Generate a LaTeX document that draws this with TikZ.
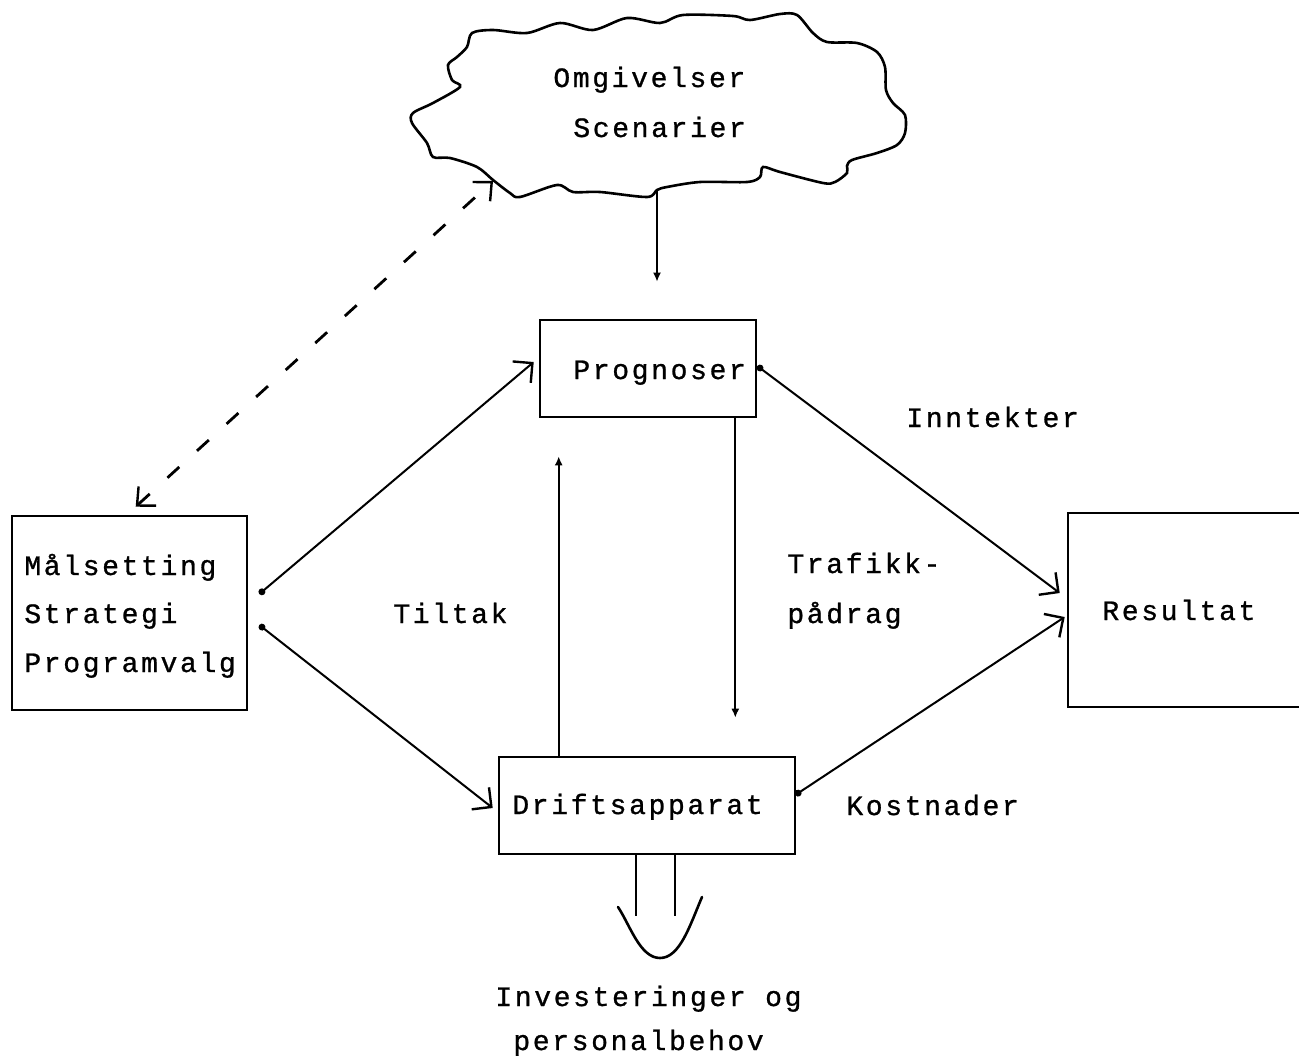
\documentclass[tikz,border=0pt]{standalone}
\usepackage{fontspec}
\newfontfamily\typew[LetterSpace=9.5,FakeBold=0.9]{Liberation Mono}
\usetikzlibrary{arrows.meta,calc}

\tikzset{
  box/.style={draw, line width=1.3pt, rectangle, inner sep=0pt},
  lbl/.style={inner sep=0pt, anchor=base west, font=\typew\fontsize{14}{16}\selectfont},
  conn/.style={line width=1pt, {Circle[length=3.4pt]}-{Straight Barb[length=7pt,width=14pt,line width=1.2pt]}},
  thin/.style={line width=1pt, -{Latex[length=4.5pt,width=4pt]}},
  dashconn/.style={line width=1.4pt, dash pattern=on 8pt off 12pt,
    {Straight Barb[length=7pt,width=13pt,line width=1.2pt]}-{Straight Barb[length=7pt,width=13pt,line width=1.2pt]}},
}

\begin{document}
\begin{tikzpicture}[x=0.5pt,y=-0.5pt]
\clip (0,0) rectangle (1299,1060);
\fill[white] (0,0) rectangle (1299,1060);

% environment cloud
\draw[line width=1.3pt] plot[smooth cycle, tension=0.5] coordinates {
  (472,33) (493,30) (527,33) (560,23) (593,30) (627,18) (660,23) (683,15)
  (733,16) (750,20) (780,14) (797,15) (813,33) (827,42) (857,43) (877,52)
  (885,67) (886,90) (893,103) (905,115) (905,133) (897,145) (877,153)
  (852,160) (847,166) (847,173) (835,182) (823,183) (780,172) (763,167)
  (760,177) (747,182) (700,182) (667,187) (657,190) (647,197) (600,192)
  (573,192) (557,185) (520,197) (510,193) (493,180) (477,167) (450,158)
  (433,157) (427,143) (412,123) (413,113) (433,103) (460,87) (452,80)
  (448,65) (457,57) (467,47)};
\coordinate (cloudS) at (657,190);
\coordinate (cloudSW) at (493,181);
\node[lbl] (omg) at (553,87) {Omgivelser};
\node[lbl] (scen) at (573,137) {Scenarier};

% boxes
\node[box, minimum width=108pt, minimum height=48.5pt] (prog) at (648,368.5) {};
\node[box, minimum width=117.5pt, minimum height=97pt] (maal) at (129.5,613) {};
\node[box, minimum width=148pt, minimum height=48.5pt] (drift) at (647,805.5) {};
\node[box, minimum width=131pt, minimum height=97pt] (res) at (1199,610) {};

% box texts
\node[lbl] (progT) at (573,379) {Prognoser};
\node[lbl] (maalT1) at (24,575) {Målsetting};
\node[lbl] (maalT2) at (24,623) {Strategi};
\node[lbl] (maalT3) at (24,672) {Programvalg};
\node[lbl] (driftT) at (512,814) {Driftsapparat};
\node[lbl] (resT) at (1102,620) {Resultat};

% connector labels
\node[lbl] (inn) at (906,427) {Inntekter};
\node[lbl] (traf1) at (787,573) {Trafikk-};
\node[lbl] (traf2) at (787,623) {pådrag};
\node[lbl] (tilt) at (393,623) {Tiltak};
\node[lbl] (kost) at (846,815) {Kostnader};
\node[lbl] (inv1) at (495,1006) {Investeringer og};
\node[lbl] (inv2) at (513,1050) {personalbehov};

% connectors
\draw[conn] ($(maal.east)+(11,-19)$) -- ($(prog.west)+(-5,-6.5)$);
\draw[conn] ($(maal.east)+(11,12)$) -- ($(drift.west)+(-5,2.5)$);
\draw[conn] ($(prog.east)+(0,-2.5)$) -- ($(res.west)+(-7,-17)$);
\draw[conn] ($(drift.east)+(-1,-10.5)$) -- ($(res.west)+(-2,7)$);
\draw[thin] ($(drift.north west)+(61,0)$) -- ($(prog.south west)+(20,38)$);
\draw[thin] ($(prog.south east)+(-22,0)$) -- ($(drift.north east)+(-61,-38)$);
\draw[thin] (cloudS) -- ($(prog.north)+(9,-37)$);
\draw[dashconn] ($(maal.north west)+(125,-8)$) -- (cloudSW);

% broad output arrow below Driftsapparat
\draw[line width=1.1pt] ($(drift.south west)+(138,0)$) -- +(0,61);
\draw[line width=1.1pt] ($(drift.south west)+(177,0)$) -- +(0,61);
\draw[line width=1.3pt, line cap=round] (618,907) .. controls (630,925) and (640,958) .. (660,958)
  .. controls (680,958) and (690,925) .. (702,897);
\end{tikzpicture}
\end{document}
